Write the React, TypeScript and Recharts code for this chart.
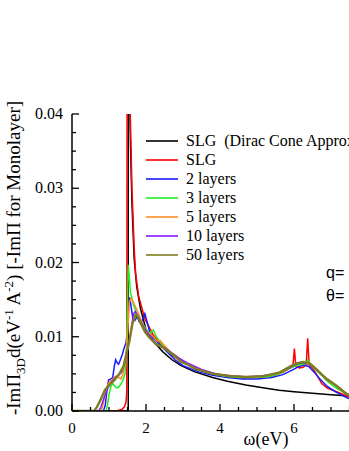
import React from "react";
import { LineChart, Line, XAxis, YAxis, Legend } from "recharts";

// omega (eV) / -Im Pi pairs
const slgDirac: [number, number][] = [
  [0, 0], [1.0, 0], [1.52, 0], [1.52, 0.07], [1.55, 0.046], [1.58, 0.036], [1.62, 0.028],
  [1.68, 0.0205], [1.75, 0.0167], [1.85, 0.0138], [2.0, 0.011], [2.2, 0.0094], [2.45, 0.008],
  [2.7, 0.0069], [2.95, 0.0061], [3.3, 0.0053], [3.8, 0.0045], [4.2, 0.004], [4.7, 0.0035],
  [5.2, 0.0031], [5.6, 0.0028], [6.0, 0.0026], [6.5, 0.0024], [7.0, 0.0022], [7.5, 0.002], [8, 0.0018],
];

const slg: [number, number][] = [
  [0, 0], [1.2, 0], [1.35, 0.0002], [1.42, 0.0006], [1.46, 0.0012], [1.48, 0.0025], [1.495, 0.07],
  [1.52, 0.07], [1.54, 0.055], [1.57, 0.041], [1.62, 0.03], [1.68, 0.022], [1.72, 0.0185],
  [1.8, 0.0155], [1.97, 0.0124], [2.2, 0.0102], [2.42, 0.0089], [2.7, 0.0075], [3.05, 0.0065],
  [3.4, 0.0056], [3.8, 0.0049], [4.2, 0.0046], [4.6, 0.0044], [5.0, 0.0045], [5.4, 0.0047],
  [5.7, 0.0052], [5.9, 0.0058], [5.97, 0.006], [6.01, 0.0084], [6.05, 0.006], [6.15, 0.0058],
  [6.25, 0.0059], [6.33, 0.0063], [6.37, 0.0098], [6.41, 0.0062], [6.5, 0.0058], [6.6, 0.005],
  [6.75, 0.0037], [6.9, 0.0031], [7.1, 0.0027], [7.3, 0.0023], [7.5, 0.0018], [7.7, 0.0014], [8, 0.0011],
];

const layers2: [number, number][] = [
  [0, 0], [0.85, 0], [0.9, 0.0008], [0.95, 0.003], [0.99, 0.0042], [1.04, 0.0043], [1.1, 0.0045],
  [1.15, 0.0062], [1.18, 0.0069], [1.22, 0.0065], [1.26, 0.0063], [1.3, 0.0068], [1.36, 0.0076],
  [1.41, 0.0085], [1.46, 0.0092], [1.5, 0.0108], [1.53, 0.014], [1.56, 0.0153], [1.6, 0.014],
  [1.64, 0.0126], [1.7, 0.0122], [1.76, 0.0127], [1.82, 0.012], [1.9, 0.0122], [1.97, 0.0131],
  [2.03, 0.012], [2.1, 0.0106], [2.2, 0.0098], [2.42, 0.0087], [2.6, 0.0078], [2.78, 0.0069],
  [3.0, 0.0061], [3.4, 0.0053], [3.8, 0.0048], [4.2, 0.0045], [4.6, 0.0043], [5.0, 0.0043],
  [5.4, 0.0045], [5.7, 0.0049], [5.95, 0.0055], [6.1, 0.0059], [6.25, 0.0062], [6.4, 0.006],
  [6.55, 0.0052], [6.7, 0.0043], [6.9, 0.0033], [7.15, 0.0025], [7.42, 0.0018], [7.7, 0.0013], [8, 0.001],
];

const layers3: [number, number][] = [
  [0, 0], [0.92, 0], [0.96, 0.0008], [1.0, 0.0022], [1.05, 0.0033], [1.1, 0.0037], [1.15, 0.0034],
  [1.2, 0.0031], [1.26, 0.0032], [1.32, 0.0036], [1.38, 0.0042], [1.43, 0.005], [1.47, 0.0075],
  [1.5, 0.014], [1.52, 0.0197], [1.55, 0.018], [1.58, 0.016], [1.62, 0.0152], [1.66, 0.0143],
  [1.72, 0.0135], [1.8, 0.0126], [1.9, 0.0118], [1.97, 0.0113], [2.05, 0.0107], [2.12, 0.0105],
  [2.2, 0.0109], [2.28, 0.01], [2.38, 0.0093], [2.6, 0.008], [2.8, 0.0073], [2.96, 0.0068],
  [3.3, 0.0058], [3.7, 0.0051], [4.1, 0.0047], [4.5, 0.0045], [4.9, 0.0045], [5.3, 0.0046],
  [5.6, 0.005], [5.9, 0.0058], [6.1, 0.0062], [6.25, 0.0063], [6.33, 0.0064], [6.37, 0.0069],
  [6.42, 0.0064], [6.6, 0.0055], [6.75, 0.0048], [6.9, 0.004], [7.1, 0.0032], [7.3, 0.0026],
  [7.5, 0.002], [7.75, 0.0014], [8, 0.001],
];

const layers5: [number, number][] = [
  [0, 0], [0.78, 0], [0.82, 0.0005], [0.9, 0.0022], [0.98, 0.0037], [1.05, 0.0041], [1.1, 0.0043],
  [1.18, 0.0047], [1.25, 0.0046], [1.32, 0.0043], [1.38, 0.005], [1.43, 0.0064], [1.47, 0.008],
  [1.5, 0.0102], [1.55, 0.0147], [1.6, 0.0152], [1.63, 0.015], [1.68, 0.0144], [1.72, 0.014],
  [1.81, 0.013], [1.9, 0.0118], [2.0, 0.0108], [2.1, 0.0104], [2.2, 0.01], [2.3, 0.0094],
  [2.38, 0.0095], [2.5, 0.0088], [2.65, 0.008], [2.8, 0.0075], [3.0, 0.0067], [3.4, 0.0057],
  [3.8, 0.0051], [4.2, 0.0048], [4.6, 0.0046], [5.0, 0.0046], [5.3, 0.0048], [5.6, 0.0051],
  [5.9, 0.0059], [6.1, 0.0064], [6.25, 0.0066], [6.45, 0.0063], [6.6, 0.0056], [6.8, 0.0047],
  [7.0, 0.004], [7.2, 0.0032], [7.42, 0.0023], [7.7, 0.0015], [8, 0.001],
];

const layers10: [number, number][] = [
  [0, 0], [0.72, 0], [0.78, 0.0005], [0.88, 0.002], [0.98, 0.0032], [1.08, 0.004], [1.15, 0.0044],
  [1.25, 0.0048], [1.34, 0.0052], [1.42, 0.0064], [1.49, 0.008], [1.55, 0.0095], [1.6, 0.0109],
  [1.66, 0.0131], [1.71, 0.0134], [1.78, 0.0128], [1.85, 0.0121], [1.95, 0.0112], [2.1, 0.0101],
  [2.3, 0.0088], [2.52, 0.0085], [2.7, 0.0078], [2.87, 0.0072], [3.1, 0.0065], [3.5, 0.0056],
  [3.9, 0.005], [4.3, 0.0047], [4.7, 0.0046], [5.1, 0.0047], [5.5, 0.005], [5.8, 0.0056],
  [6.05, 0.0063], [6.25, 0.0065], [6.45, 0.0063], [6.62, 0.0055], [6.85, 0.0044], [7.1, 0.0035],
  [7.4, 0.0024], [7.7, 0.0016], [8, 0.0011],
];

const layers50: [number, number][] = [
  [0, 0], [0.6, 0], [0.68, 0.0006], [0.78, 0.0016], [0.89, 0.0028], [1.0, 0.0035], [1.15, 0.0042],
  [1.28, 0.005], [1.39, 0.006], [1.47, 0.0077], [1.55, 0.0094], [1.63, 0.0117], [1.72, 0.013],
  [1.77, 0.0128], [1.87, 0.0117], [1.98, 0.0106], [2.09, 0.0099], [2.27, 0.009], [2.45, 0.0086],
  [2.6, 0.0081], [2.78, 0.0074], [2.92, 0.0067], [3.1, 0.0063], [3.37, 0.0056], [3.82, 0.005],
  [4.27, 0.0047], [4.72, 0.0046], [5.17, 0.0047], [5.62, 0.0052], [5.89, 0.006], [6.07, 0.0064],
  [6.25, 0.0066], [6.43, 0.0064], [6.61, 0.0056], [6.88, 0.0043], [7.15, 0.0034], [7.42, 0.0023],
  [7.7, 0.0016], [8, 0.0011],
];

const xTicks = [0, 0.5, 1, 1.5, 2, 2.5, 3, 3.5, 4, 4.5, 5, 5.5, 6, 6.5, 7, 7.5, 8];
const xLabels = [0, 2, 4, 6];
const yTicks = [
  0, 0.0025, 0.005, 0.0075, 0.01, 0.0125, 0.015, 0.0175, 0.02, 0.0225, 0.025, 0.0275, 0.03,
  0.0325, 0.035, 0.0375, 0.04,
];

const series = [
  { name: "SLG\u00a0\u00a0(Dirac Cone Approx.)", color: "#000000", width: 1.5, points: slgDirac },
  { name: "SLG", color: "#ff0000", width: 1.5, points: slg },
  { name: "2 layers", color: "#1a1aff", width: 1.5, points: layers2 },
  { name: "3 layers", color: "#22ee22", width: 1.5, points: layers3 },
  { name: "5 layers", color: "#ff8c26", width: 1.5, points: layers5 },
  { name: "10 layers", color: "#8a1aff", width: 1.5, points: layers10 },
  { name: "50 layers", color: "#7d7d22", width: 2.4, points: layers50 },
];

const serif = "'Liberation Serif', 'Times New Roman', serif";

const isMajor = (v: number, step: number) => Math.abs(v / step - Math.round(v / step)) < 1e-6;

const BottomTick = (p: any) => {
  const v = p.payload.value;
  const major = isMajor(v, 2);
  return (
    <g>
      <line x1={p.x} y1={p.y} x2={p.x} y2={p.y - (major ? 7 : 4)} stroke="#000" strokeWidth={1.3} />
      {xLabels.includes(v) && (
        <text x={p.x} y={p.y + 22} textAnchor="middle" fontFamily={serif} fontSize={15} fill="#000">
          {v}
        </text>
      )}
    </g>
  );
};

const TopTick = (p: any) => {
  const major = isMajor(p.payload.value, 2);
  return <line x1={p.x} y1={p.y} x2={p.x} y2={p.y + (major ? 7 : 4)} stroke="#000" strokeWidth={1.3} />;
};

const LeftTick = (p: any) => {
  const v = p.payload.value;
  const major = isMajor(v, 0.01);
  return (
    <g>
      <line x1={p.x} y1={p.y} x2={p.x + (major ? 7 : 4)} y2={p.y} stroke="#000" strokeWidth={1.3} />
      {major && (
        <text x={p.x - 9} y={p.y + 5} textAnchor="end" fontFamily={serif} fontSize={16} fill="#000">
          {v.toFixed(2)}
        </text>
      )}
    </g>
  );
};

const RightTick = (p: any) => {
  const major = isMajor(p.payload.value, 0.01);
  return <line x1={p.x} y1={p.y} x2={p.x - (major ? 7 : 4)} y2={p.y} stroke="#000" strokeWidth={1.3} />;
};

const YTitle = () => (
  <text transform="translate(20,258) rotate(-90)" textAnchor="middle" fontFamily={serif} fontSize={19} fill="#000">
    -ImΠ
    <tspan dy={5} fontSize={13}>3D</tspan>
    <tspan dy={-5}>d(eV</tspan>
    <tspan dy={-7} fontSize={13}>-1</tspan>
    <tspan dy={7}> A</tspan>
    <tspan dy={-7} fontSize={13}>-2</tspan>
    <tspan dy={7}>) [-ImΠ for Monolayer]</tspan>
  </text>
);

const XTitle = () => (
  <text x={266} y={445} textAnchor="middle" fontFamily={serif} fontSize={18} fill="#000">
    ω(eV)
  </text>
);

const LegendBox = () => (
  <div style={{ fontFamily: serif, fontSize: 16, color: "#000" }}>
    {series.map((s) => (
      <div key={s.name} style={{ display: "flex", alignItems: "center", height: 19, whiteSpace: "nowrap" }}>
        <svg width={32} height={4} style={{ display: "block" }}>
          <line x1={0} y1={2} x2={32} y2={2} stroke={s.color} strokeWidth={1.6} />
        </svg>
        <span style={{ marginLeft: 8, lineHeight: "19px" }}>{s.name}</span>
      </div>
    ))}
  </div>
);

const axisLine = { stroke: "#000", strokeWidth: 1.5 };

export default function App() {
  return (
    <div
      style={{
        position: "absolute",
        left: 0,
        top: 0,
        width: 349,
        height: 451,
        overflow: "hidden",
        background: "#fff",
      }}
    >
      <LineChart width={400} height={451} margin={{ top: 114, right: 32, bottom: 0, left: 0 }}>
        <XAxis
          type="number"
          dataKey="w"
          domain={[0, 8]}
          ticks={xTicks}
          interval={0}
          height={40}
          tickSize={0}
          tickMargin={0}
          tickLine={false}
          axisLine={axisLine}
          tick={(p: any) => <BottomTick {...p} />}
          allowDataOverflow
          label={{ content: () => <XTitle /> }}
        />
        <XAxis
          xAxisId="top"
          orientation="top"
          type="number"
          dataKey="w"
          domain={[0, 8]}
          ticks={xTicks}
          interval={0}
          height={0}
          tickSize={0}
          tickMargin={0}
          tickLine={false}
          axisLine={axisLine}
          tick={(p: any) => <TopTick {...p} />}
        />
        <YAxis
          type="number"
          domain={[0, 0.04]}
          ticks={yTicks}
          interval={0}
          width={72}
          tickSize={0}
          tickMargin={0}
          tickLine={false}
          axisLine={axisLine}
          tick={(p: any) => <LeftTick {...p} />}
          allowDataOverflow
          label={{ content: () => <YTitle /> }}
        />
        <YAxis
          yAxisId="right"
          orientation="right"
          type="number"
          domain={[0, 0.04]}
          ticks={yTicks}
          interval={0}
          width={0}
          tickSize={0}
          tickMargin={0}
          tickLine={false}
          axisLine={axisLine}
          tick={(p: any) => <RightTick {...p} />}
        />
        <Legend
          layout="vertical"
          align="center"
          verticalAlign="middle"
          wrapperStyle={{ position: "absolute", left: 146, top: 131, width: "auto", height: "auto" }}
          content={() => <LegendBox />}
        />
        {series.map((s) => (
          <Line
            key={s.name}
            name={s.name}
            data={s.points.map(([w, v]) => ({ w, v }))}
            dataKey="v"
            type="linear"
            stroke={s.color}
            strokeWidth={s.width}
            dot={false}
            activeDot={false}
            isAnimationActive={false}
          />
        ))}
      </LineChart>
      <div
        style={{
          position: "absolute",
          left: 326,
          top: 265,
          fontFamily: "'Liberation Sans', Arial, sans-serif",
          fontSize: 16,
          lineHeight: "16px",
          whiteSpace: "nowrap",
        }}
      >
        q=
      </div>
      <div
        style={{
          position: "absolute",
          left: 326,
          top: 288,
          fontFamily: "'Liberation Sans', Arial, sans-serif",
          fontSize: 16,
          lineHeight: "16px",
          whiteSpace: "nowrap",
        }}
      >
        θ=
      </div>
    </div>
  );
}
